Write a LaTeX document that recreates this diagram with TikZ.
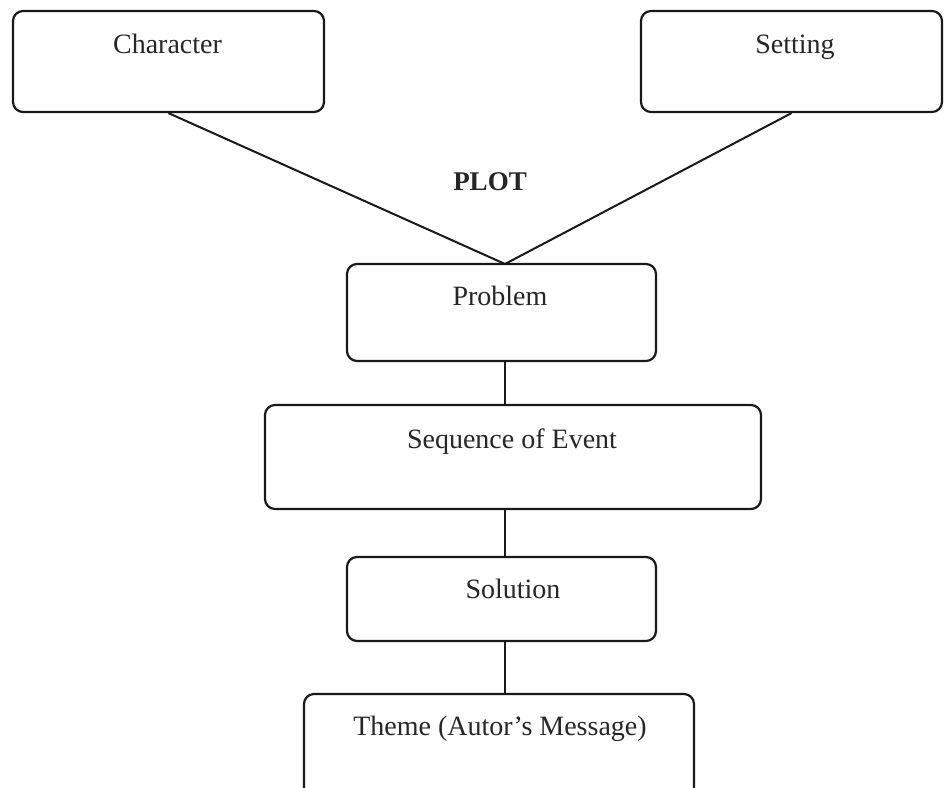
\documentclass[tikz,border=0pt]{standalone}
\usepackage{fontspec}
\setmainfont{Liberation Serif}
\begin{document}
\begin{tikzpicture}[x=1pt,y=-1pt,
  box/.style={draw=black!90, line width=2.2pt, rounded corners=10pt, inner sep=0pt},
  lbl/.style={anchor=base, inner sep=0pt, font=\fontsize{28}{30}\selectfont, text=black!85},
  conn/.style={draw=black!90, line width=2pt}]
\useasboundingbox (0,0) rectangle (944,787);
\begin{scope}
\clip (0,0) rectangle (944,787);
% boxes
\node[box, minimum width=311pt, minimum height=101pt] (char) at (168.5,61.5) {};
\node[box, minimum width=301pt, minimum height=101pt] (sett) at (791.5,61.5) {};
\node[box, minimum width=309pt, minimum height=97pt] (prob) at (501.5,312.5) {};
\node[box, minimum width=496pt, minimum height=104pt] (seq) at (513,457) {};
\node[box, minimum width=309pt, minimum height=84pt] (sol) at (501.5,599) {};
\node[box, minimum width=390pt, minimum height=120pt] (theme) at (499,754) {};
% labels
\node[lbl] (tchar) at (167.5,53) {Character};
\node[lbl] (tsett) at (795,53) {Setting};
\node[lbl, font=\fontsize{27}{30}\selectfont\bfseries] (plot) at (490,190) {PLOT};
\node[lbl] (tprob) at (500,305) {Problem};
\node[lbl] (tseq) at (512,448) {Sequence of Event};
\node[lbl] (tsol) at (513,598) {Solution};
\node[lbl] (ttheme) at (500,735) {Theme (Autor’s Message)};
% connectors
\coordinate (meet) at (505,264);
\draw[conn] (char.south) -- (meet);
\draw[conn] (sett.south) -- (meet);
\draw[conn] (prob.south -| meet) -- (seq.north -| meet);
\draw[conn] (seq.south -| meet) -- (sol.north -| meet);
\draw[conn] (sol.south -| meet) -- (theme.north -| meet);
\end{scope}
\end{tikzpicture}
\end{document}
